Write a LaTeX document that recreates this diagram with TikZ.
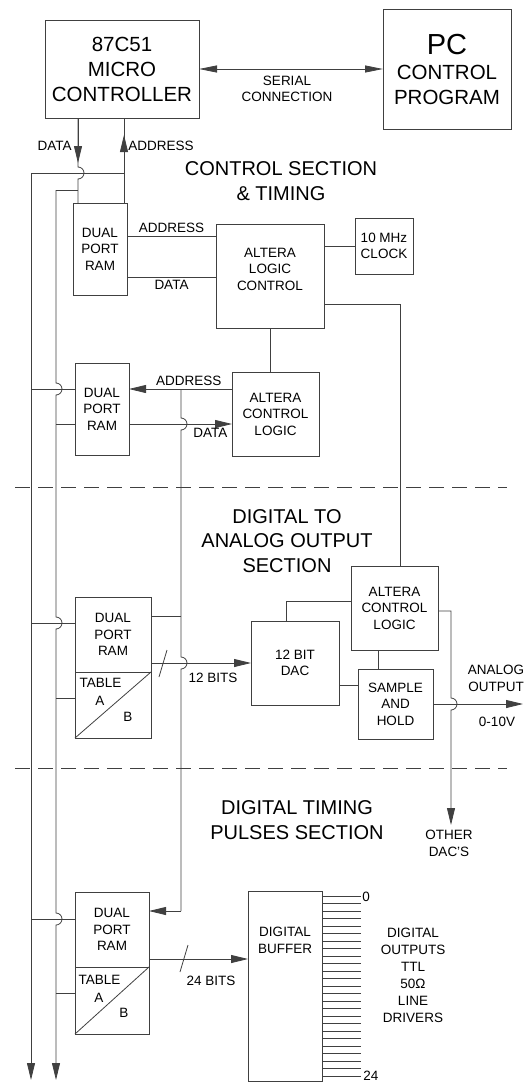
\documentclass[tikz,border=0pt]{standalone}
\usepackage{fontspec}
\setmainfont{Liberation Sans}
\usetikzlibrary{arrows.meta, positioning, calc}

\begin{document}
\begin{tikzpicture}[
        x=1pt, y=-1pt,
        color=black!75, line width=0.8pt,
        box/.style={rectangle, draw, inner sep=0pt, outer sep=0pt, align=center, text=black, font=\fontsize{13.5}{16.5}\selectfont},
        big/.style={font=\fontsize{20.5}{25}\selectfont},
        title/.style={align=center, text=black, font=\fontsize{20}{24.5}\selectfont},
        lbl/.style={align=center, inner sep=0pt, text=black, font=\fontsize{13.5}{16.5}\selectfont},
        arrowline/.style={-{Triangle[length=17pt,width=8pt]}},
        sectline/.style={dash pattern=on 15pt off 8pt}
    ]
        \useasboundingbox (0,0) rectangle (528,1082);

        % boxes
        \node[box, big, minimum width=154pt, minimum height=98pt] (mcu) at (122,69) {87C51\\MICRO\\CONTROLLER};
        \node[box, big, minimum width=128pt, minimum height=120pt] (pc) at (447,69) {{\fontsize{29}{29}\selectfont PC}\\CONTROL\\PROGRAM};
        \node[box, minimum width=54pt, minimum height=92pt] (ram1) at (100,249) {DUAL\\PORT\\RAM};
        \node[box, minimum width=108pt, minimum height=104pt, label={[lbl, yshift=7pt]center:{ALTERA\\LOGIC\\CONTROL}}] (alc) at (270,276) {};
        \node[box, minimum width=58pt, minimum height=56pt] (clk) at (384,246) {10 MHz\\CLOCK};
        \node[box, minimum width=87pt, minimum height=84pt] (acl2) at (275.5,414) {ALTERA\\CONTROL\\LOGIC};
        \node[box, minimum width=54pt, minimum height=92pt] (ram2) at (102,409) {DUAL\\PORT\\RAM};
        \node[box, minimum width=76pt, minimum height=75pt] (ram3) at (113,634.5) {DUAL\\PORT\\RAM};
        \node[box, minimum width=76pt, minimum height=66pt, below=0pt of ram3] (tab3) {};
        \node[box, minimum width=88pt, minimum height=84pt] (dac) at (295,663) {12 BIT\\DAC};
        \node[box, minimum width=87pt, minimum height=84pt] (acl3) at (394.5,608) {ALTERA\\CONTROL\\LOGIC};
        \node[box, minimum width=75pt, minimum height=70pt] (sh) at (395.5,704) {SAMPLE\\AND\\HOLD};
        \node[box, minimum width=74pt, minimum height=75pt] (ram4) at (112,929.5) {DUAL\\PORT\\RAM};
        \node[box, minimum width=74pt, minimum height=67pt, below=0pt of ram4] (tab4) {};
        \node[box, minimum width=74pt, minimum height=190pt, label={[lbl, anchor=north, yshift=-36pt]north:{DIGITAL\\BUFFER}}] (buf) at (285,986) {};

        % tables
        \draw (tab3.south west) -- (tab3.north east);
        \node[lbl] at ($(tab3.north west)+(25.5,11)$) {TABLE};
        \node[lbl] at ($(tab3.north west)+(25,29)$) {A};
        \node[lbl] at ($(tab3.north west)+(53,45)$) {B};
        \draw (tab4.south west) -- (tab4.north east);
        \node[lbl] at ($(tab4.north west)+(24.5,13)$) {TABLE};
        \node[lbl] at ($(tab4.north west)+(24,31)$) {A};
        \node[lbl] at ($(tab4.north west)+(49,46)$) {B};

        % section titles
        \node[title] at (281,181) {CONTROL SECTION\\\& TIMING};
        \node[title] at (287,541) {DIGITAL TO\\ANALOG OUTPUT\\SECTION};
        \node[title] at (297,820) {DIGITAL TIMING\\PULSES SECTION};
        \draw[sectline] (15,487) -- (507,487);
        \draw[sectline] (15,768) -- (507,768);

        % serial link
        \draw[{Triangle[length=18pt,width=7pt]}-{Triangle[length=18pt,width=7pt]}] (mcu.east) -- (pc.west);
        \node[lbl] at (287,89) {SERIAL\\CONNECTION};

        % buses
        \coordinate (atop) at (31,173);
        \coordinate (abot) at (31,1080);
        \coordinate (dtop) at (56,190);
        \coordinate (dbot) at (56,1080);
        \draw[arrowline] (atop) -- (abot);
        \draw[arrowline] (dtop) -- (56,383) arc[start angle=90, end angle=-90, radius=6pt]
            -- (56,617) arc[start angle=90, end angle=-90, radius=6pt]
            -- (56,913) arc[start angle=90, end angle=-90, radius=6pt] -- (dbot);

        % micro to first ram
        \draw[arrowline] ([xshift=-44pt]mcu.south) -- ++(0,45);
        \draw ([xshift=-44pt]mcu.south) -- ++(0,49) arc[start angle=90, end angle=-90, radius=6pt] -- ([xshift=-22pt]ram1.north);
        \draw[arrowline] ([xshift=24pt]ram1.north) -- ++(0,-68);
        \draw ([xshift=24pt]ram1.north) -- ([xshift=2pt]mcu.south);
        \draw (atop) -- ++(93,0);
        \draw (dtop) -- ++(22,0);
        \node[lbl, anchor=east] at (72,146) {DATA};
        \node[lbl, anchor=west] at (128,146) {ADDRESS};

        % control section
        \draw (ram1.east |- 0,236) -- node[lbl, above=3pt] {ADDRESS} (alc.west |- 0,236);
        \draw (ram1.east |- 0,277) -- node[lbl, below=3pt] {DATA} (alc.west |- 0,277);
        \draw (alc.east |- clk.west) -- (clk.west);
        \draw (alc.east |- 0,304) -- (400,304) -- (acl3.north -| 400,0);
        \draw (alc.south) -- (alc.south |- acl2.north);
        \draw[arrowline] (acl2.west |- 0,389) -- node[lbl, above=3pt, pos=0.42] {ADDRESS} (ram2.east |- 0,389);
        \draw[arrowline] (ram2.east |- 0,424) -- node[lbl, below=4pt, pos=0.79] {DATA} (acl2.west |- 0,424);
        \draw (atop |- 0,389) -- (ram2.west |- 0,389);
        \draw (dtop |- 0,424) -- (ram2.west |- 0,424);

        % address tap down to the other rams
        \coordinate (tap) at (181,389);
        \draw (tap) -- (181,418) arc[start angle=90, end angle=-90, radius=6pt]
            -- (181,657) arc[start angle=90, end angle=-90, radius=6pt] -- (181,911);
        \draw[arrowline] (181,911) -- (ram4.east |- 0,911);
        \draw (181,616) -- (ram3.east |- 0,616);

        % analog output section
        \draw (atop |- 0,623) -- (ram3.west |- 0,623);
        \draw (dtop |- 0,698) -- (tab3.west |- 0,698);
        \draw[arrowline] (ram3.east |- 0,663) -- (dac.west);
        \draw (159,677) -- (167,650);
        \node[lbl] at (213,678) {12 BITS};
        \draw (dac.north -| 286,0) -- (286,601) -- (acl3.west |- 0,601);
        \draw (acl3.south -| 378,0) -- (sh.north -| 378,0);
        \draw (dac.east |- 0,685) -- (sh.west |- 0,685);
        \draw[arrowline] (sh.east) -- (523,704);
        \node[lbl] at (496,678.5) {ANALOG\\OUTPUT};
        \node[lbl] at (497,722) {0-10V};
        \draw[arrowline] (acl3.east |- 0,611) -- (451,611) -- (451,698) arc[start angle=90, end angle=-90, radius=6pt] -- (451,825);
        \node[lbl] at (449,843.5) {OTHER\\DAC'S};

        % timing pulses section
        \draw (atop |- 0,919) -- (ram4.west |- 0,919);
        \draw (dtop |- 0,993) -- (tab4.west |- 0,993);
        \draw[arrowline] (ram4.east |- 0,959) -- (buf.west |- 0,959);
        \draw (180,972) -- (188,945);
        \node[lbl] at (211,981) {24 BITS};
        \foreach \i in {0,...,24} {
            \pgfmathsetmacro\yy{896+7.5*\i}
            \draw (buf.east |- 0,\yy) -- ++(39,0);
        }
        \node[lbl, anchor=west] at (362,897) {0};
        \node[lbl, anchor=west] at (363,1076) {24};
        \node[lbl, font=\fontsize{13.5}{17}\selectfont] at (413,975.5) {DIGITAL\\OUTPUTS\\TTL\\50Ω\\LINE\\DRIVERS};
    \end{tikzpicture}
\end{document}
